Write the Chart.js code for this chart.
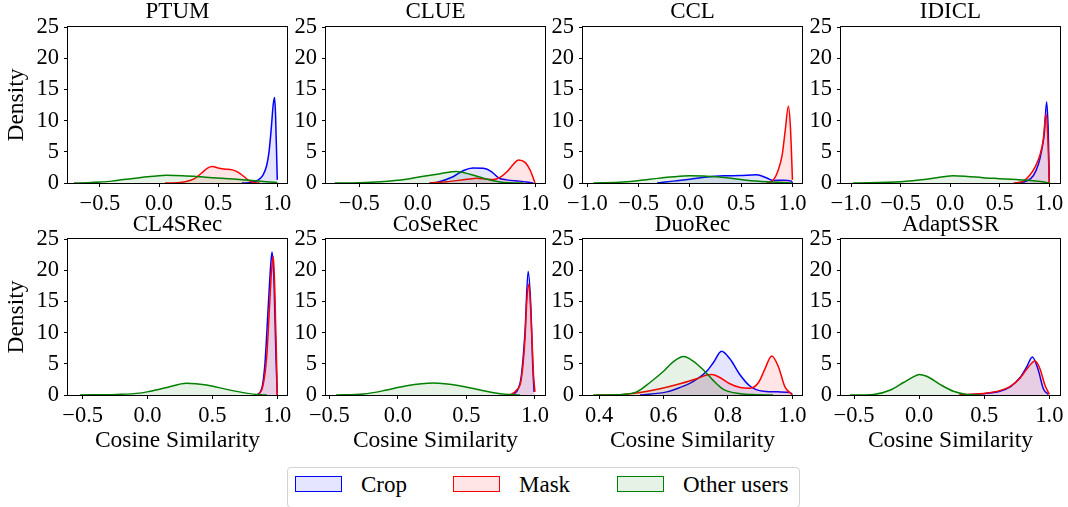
<!DOCTYPE html>
<html><head><meta charset="utf-8">
<script src="https://cdn.jsdelivr.net/npm/chart.js@4"></script>
<style>
html,body{margin:0;padding:0;background:#fff;}
body{width:1068px;height:507px;overflow:hidden;position:relative;font-family:'Liberation Serif','Times New Roman',serif;}
.panel{position:absolute;}
.panel canvas{display:block;}
#legend{position:absolute;left:287px;top:467px;width:513px;height:41px;border:1px solid #d3d3d3;border-radius:4px;box-sizing:border-box;}
.sw{position:absolute;width:45px;height:14px;border:1.5px solid;}
.lt{position:absolute;font-size:23px;line-height:23px;color:#000;white-space:nowrap;}
</style></head><body>

<div class="panel" id="p0"><canvas id="c0"></canvas></div>
<div class="panel" id="p1"><canvas id="c1"></canvas></div>
<div class="panel" id="p2"><canvas id="c2"></canvas></div>
<div class="panel" id="p3"><canvas id="c3"></canvas></div>
<div class="panel" id="p4"><canvas id="c4"></canvas></div>
<div class="panel" id="p5"><canvas id="c5"></canvas></div>
<div class="panel" id="p6"><canvas id="c6"></canvas></div>
<div class="panel" id="p7"><canvas id="c7"></canvas></div>

<div id="legend"></div>
<div class="sw" style="left:295px;top:476px;border-color:#0000ff;background:rgba(0,0,255,0.1)"></div>
<div class="lt" style="left:361px;top:473px">Crop</div>
<div class="sw" style="left:453px;top:476px;border-color:#ff0000;background:rgba(255,0,0,0.1)"></div>
<div class="lt" style="left:519px;top:473px">Mask</div>
<div class="sw" style="left:617px;top:476px;border-color:#008000;background:rgba(0,128,0,0.1)"></div>
<div class="lt" style="left:683px;top:473px">Other users</div>

<script>
// ---------- data ----------
const titles = ['PTUM','CLUE','CCL','IDICL','CL4SRec','CoSeRec','DuoRec','AdaptSSR'];
const seriesNames = ['Crop','Mask','Other users'];
const xMin = [-0.77,-0.784,-1.042,-1.101,-0.613,-0.524,0.350,-0.60];
const xMax = [1.082,1.085,1.093,1.108,1.075,1.073,1.030,1.082];
const xTicks = [
  [-0.5,0,0.5,1.0],[-0.5,0,0.5,1.0],[-1.0,-0.5,0,0.5,1.0],[-1.0,-0.5,0,0.5,1.0],
  [-0.5,0,0.5,1.0],[-0.5,0,0.5,1.0],[0.4,0.6,0.8,1.0],[-0.5,0,0.5,1.0]
];
const xTickLabels = [
  ['\u22120.5','0.0','0.5','1.0'],['\u22120.5','0.0','0.5','1.0'],
  ['\u22121.0','\u22120.5','0.0','0.5','1.0'],['\u22121.0','\u22120.5','0.0','0.5','1.0'],
  ['\u22120.5','0.0','0.5','1.0'],['\u22120.5','0.0','0.5','1.0'],
  ['0.4','0.6','0.8','1.0'],['\u22120.5','0.0','0.5','1.0']
];
const yTicks = [0,5,10,15,20,25];
const yTickLabels = ['0','5','10','15','20','25'];

// [cosine similarity, density]
const ptumCrop  = [[0.70,0],[0.78,0.1],[0.84,0.5],[0.88,1.3],[0.91,2.8],[0.93,5.0],[0.95,9.0],[0.965,12.5],[0.977,13.7],[0.985,11.0],[0.995,4.0],[1.0,0.5]];
const ptumMask  = [[0.05,0],[0.15,0.05],[0.22,0.2],[0.30,0.7],[0.36,1.6],[0.41,2.4],[0.45,2.65],[0.50,2.4],[0.55,2.25],[0.62,2.1],[0.67,1.7],[0.72,1.0],[0.76,0.4],[0.80,0.08],[0.85,0]];
const ptumOther = [[-0.72,0],[-0.6,0.05],[-0.5,0.15],[-0.4,0.3],[-0.3,0.55],[-0.2,0.75],[-0.1,1.0],[0.0,1.18],[0.06,1.23],[0.2,1.17],[0.35,1.0],[0.49,0.8],[0.63,0.64],[0.77,0.43],[0.91,0.2],[1.0,0.08]];

const clueCrop  = [[0.10,0],[0.16,0.1],[0.30,1.0],[0.39,2.0],[0.47,2.4],[0.56,2.35],[0.63,1.8],[0.69,0.8],[0.76,0.5],[0.87,0.3],[0.985,0]];
const clueMask  = [[0.10,0],[0.245,0.2],[0.42,0.6],[0.50,0.75],[0.59,0.6],[0.645,0.55],[0.70,0.9],[0.76,1.8],[0.815,3.0],[0.858,3.7],[0.915,3.3],[0.96,2.0],[0.99,0.5],[1.0,0]];
const clueOther = [[-0.71,0],[-0.5,0.05],[-0.32,0.2],[-0.1,0.6],[0.02,1.0],[0.19,1.5],[0.33,1.85],[0.445,1.4],[0.59,0.6],[0.70,0.15],[0.815,0.02],[0.9,0]];

const cclCrop  = [[-0.32,0],[-0.16,0.3],[0.0,0.6],[0.164,0.95],[0.33,1.15],[0.49,1.2],[0.65,1.32],[0.75,0.8],[0.815,0.4],[0.91,0.45],[0.99,0.3],[1.0,0]];
const cclMask  = [[0.75,0],[0.815,0.5],[0.86,2.0],[0.90,4.5],[0.93,8.5],[0.96,12.3],[0.98,9.0],[1.0,0.5]];
const cclOther = [[-0.94,0],[-0.65,0.15],[-0.39,0.6],[-0.16,1.0],[0.0,1.15],[0.164,1.1],[0.36,0.85],[0.555,0.45],[0.75,0.2],[0.945,0.05],[1.0,0]];

const idiclCrop  = [[0.67,0],[0.77,0.3],[0.84,1.2],[0.89,3.0],[0.92,5.0],[0.95,8.0],[0.973,13.0],[0.99,8.0],[1.0,0]];
const idiclMask  = [[0.64,0],[0.74,0.3],[0.80,1.2],[0.855,2.5],[0.906,4.5],[0.94,7.0],[0.966,11.1],[0.986,7.0],[1.0,0]];
const idiclOther = [[-0.98,0],[-0.5,0.2],[-0.24,0.6],[-0.07,1.0],[0.03,1.15],[0.17,1.05],[0.33,0.85],[0.5,0.7],[0.67,0.55],[0.84,0.35],[0.97,0.1],[1.0,0]];

const cl4Crop  = [[0.84,0],[0.88,1.0],[0.905,5.0],[0.93,14.0],[0.95,21.0],[0.96,22.9],[0.975,18.0],[0.99,6.0],[1.0,0]];
const cl4Mask  = [[0.855,0],[0.89,1.5],[0.918,6.0],[0.94,14.0],[0.956,20.0],[0.97,22.2],[0.982,16.0],[0.995,5.0],[1.0,0]];
const cl4Other = [[-0.52,0],[-0.24,0.1],[-0.06,0.3],[0.02,0.6],[0.15,1.2],[0.30,1.87],[0.455,1.6],[0.61,0.9],[0.76,0.3],[0.866,0.05],[0.92,0]];

const coseCrop  = [[0.84,0],[0.878,1.0],[0.90,3.0],[0.927,10.0],[0.95,19.8],[0.97,14.0],[0.983,5.0],[0.993,0.5]];
const coseMask  = [[0.818,0],[0.866,0.8],[0.90,2.5],[0.927,9.0],[0.94,15.0],[0.956,17.8],[0.97,13.0],[0.99,3.0],[1.0,0.5]];
const coseOther = [[-0.45,0],[-0.25,0.15],[-0.08,0.8],[0.064,1.5],[0.26,1.92],[0.45,1.5],[0.60,0.8],[0.745,0.2],[0.84,0.05],[0.89,0]];

const duoCrop  = [[0.527,0],[0.61,0.5],[0.651,1.2],[0.693,2.2],[0.734,3.8],[0.755,5.2],[0.78,7.0],[0.806,5.8],[0.838,3.2],[0.869,1.4],[0.91,0.6],[0.962,0.5],[0.993,0.4],[1.0,0.1]];
const duoMask  = [[0.393,0],[0.475,0.1],[0.527,0.4],[0.589,1.0],[0.651,1.8],[0.703,2.6],[0.734,3.2],[0.75,3.3],[0.775,2.8],[0.806,1.8],[0.838,1.2],[0.869,1.1],[0.895,2.0],[0.915,4.2],[0.936,6.24],[0.957,4.5],[0.977,1.3],[1.0,0.05]];
const duoOther = [[0.382,0],[0.475,0.1],[0.517,0.5],[0.558,2.0],[0.60,3.8],[0.63,5.3],[0.662,6.15],[0.693,5.4],[0.724,4.0],[0.755,2.3],[0.786,0.9],[0.838,0.2],[0.89,0.05],[0.94,0]];

const adaptCrop  = [[0.31,0],[0.49,0.2],[0.62,0.6],[0.70,1.3],[0.775,2.8],[0.826,4.5],[0.87,6.08],[0.915,4.0],[0.954,1.0],[0.992,0.1]];
const adaptMask  = [[0.31,0],[0.49,0.25],[0.62,0.7],[0.70,1.4],[0.775,2.7],[0.84,4.5],[0.89,5.44],[0.928,4.2],[0.966,1.6],[1.0,0.1]];
const adaptOther = [[-0.53,0],[-0.35,0.1],[-0.22,0.8],[-0.12,2.0],[-0.045,2.9],[0.0,3.3],[0.058,3.0],[0.16,1.7],[0.263,0.6],[0.365,0.1],[0.47,0]];

const panelSeries = [
  [ptumCrop, ptumMask, ptumOther],
  [clueCrop, clueMask, clueOther],
  [cclCrop, cclMask, cclOther],
  [idiclCrop, idiclMask, idiclOther],
  [cl4Crop, cl4Mask, cl4Other],
  [coseCrop, coseMask, coseOther],
  [duoCrop, duoMask, duoOther],
  [adaptCrop, adaptMask, adaptOther]
];

// ---------- styles / layout ----------
const FAMILY = "'Liberation Serif','Times New Roman',serif";
const lineColors = ['#0000ff','#ff0000','#008000'];
const fillColors = ['rgba(0,0,255,0.1)','rgba(255,0,0,0.1)','rgba(0,128,0,0.1)'];
const drawOrder = [3,2,1];
const plotLefts = [68,326,583,841];
const plotTops = [27,239];
const plotW = 219, plotH = 156, yAxisW = 68, padRight = 22, titleBlock = 27;

Chart.defaults.font.family = FAMILY;
Chart.defaults.color = '#000';

const framePlugin = {
  id: 'frame',
  afterDatasetsDraw(chart) {
    const a = chart.chartArea, ctx = chart.ctx;
    ctx.save();
    ctx.strokeStyle = '#000';
    ctx.lineWidth = 1;
    ctx.strokeRect(Math.round(a.left) - 0.5, Math.round(a.top) - 0.5,
                   Math.round(a.right - a.left) + 1, Math.round(a.bottom - a.top) + 1);
    ctx.restore();
  }
};

const tickGrid = {display:true, drawOnChartArea:false, drawTicks:true, tickLength:4, tickColor:'#000', tickWidth:1, color:'#000'};

for (let p = 0; p < 8; p++) {
  const row = Math.floor(p / 4), col = p % 4;
  const xAxisH = row === 1 ? 64 : 28;
  const div = document.getElementById('p' + p);
  div.style.left = (plotLefts[col] - yAxisW) + 'px';
  div.style.top = (plotTops[row] - titleBlock) + 'px';
  div.style.width = (yAxisW + plotW + padRight) + 'px';
  div.style.height = (titleBlock + plotH + xAxisH) + 'px';

  const datasets = panelSeries[p].map((pts, s) => ({
    label: seriesNames[s],
    data: pts.map(q => ({x: q[0], y: q[1]})),
    borderColor: lineColors[s],
    backgroundColor: fillColors[s],
    borderWidth: 1.5,
    pointRadius: 0,
    fill: 'origin',
    cubicInterpolationMode: 'monotone',
    order: drawOrder[s]
  }));

  new Chart(document.getElementById('c' + p), {
    type: 'line',
    data: {datasets},
    plugins: [framePlugin],
    options: {
      responsive: true,
      maintainAspectRatio: false,
      animation: false,
      events: [],
      layout: {padding: {left: 0, right: padRight, top: 0, bottom: 0}},
      plugins: {
        legend: {display: false},
        tooltip: {enabled: false},
        title: {display: true, text: titles[p], color: '#000', fullSize: false,
                font: {family: FAMILY, size: 23, weight: 'normal', lineHeight: 1},
                padding: {top: row === 1 ? 1 : 0, bottom: row === 1 ? 3 : 4}}
      },
      scales: {
        x: {
          type: 'linear', min: xMin[p], max: xMax[p],
          afterBuildTicks: s => { s.ticks = xTicks[p].map(v => ({value: v})); },
          afterFit: s => { s.height = xAxisH; },
          ticks: {font: {family: FAMILY, size: 22.5}, color: '#000', padding: 4, maxRotation: 0, minRotation: 0,
                  autoSkip: false, callback: (v, i) => xTickLabels[p][i]},
          grid: tickGrid,
          border: {display: false},
          title: {display: row === 1, text: 'Cosine Similarity', color: '#000',
                  font: {family: FAMILY, size: 23.5, lineHeight: 1}, padding: {top: 0, bottom: 6}}
        },
        y: {
          min: 0, max: 25,
          afterBuildTicks: s => { s.ticks = yTicks.map(v => ({value: v})); },
          afterFit: s => { s.width = yAxisW; },
          ticks: {font: {family: FAMILY, size: 22.5}, color: '#000', padding: 5, callback: (v, i) => yTickLabels[i]},
          grid: tickGrid,
          border: {display: false},
          title: {display: col === 0, text: 'Density', color: '#000',
                  font: {family: FAMILY, size: 23.5, lineHeight: 1}, padding: {top: 5, bottom: 0}}
        }
      }
    }
  });
}
</script>
</body></html>
